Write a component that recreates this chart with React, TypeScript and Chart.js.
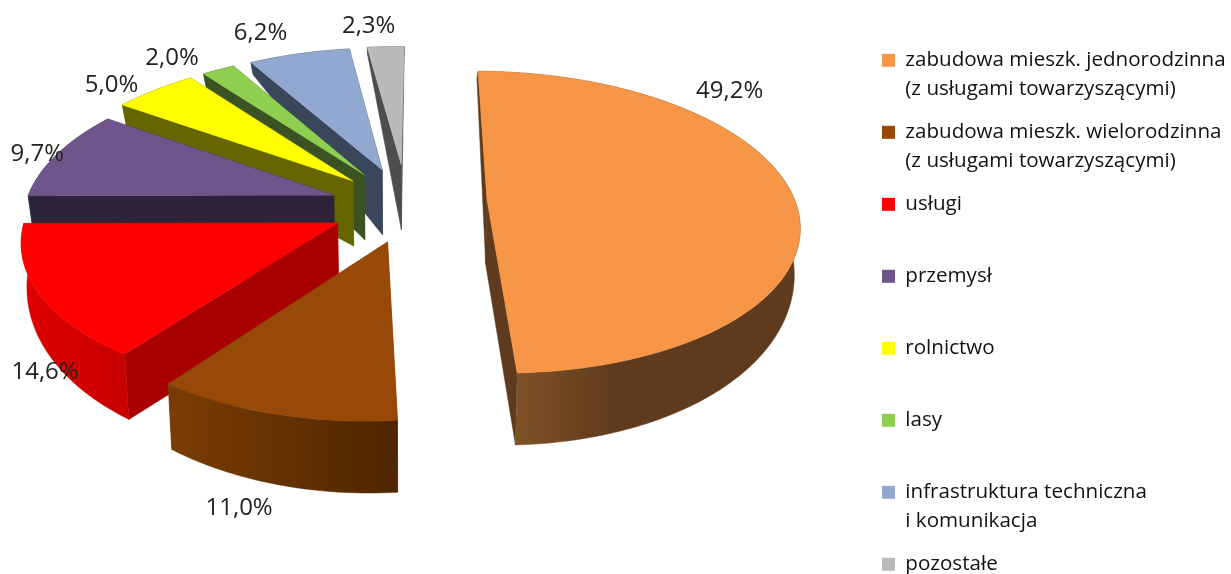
import React, { useEffect, useRef } from "react";
import { Chart, registerables } from "chart.js";

Chart.register(...registerables);

const categories: (string | string[])[] = [
  ["zabudowa mieszk. jednorodzinna", "(z usługami towarzyszącymi)"],
  ["zabudowa mieszk. wielorodzinna", "(z usługami towarzyszącymi)"],
  ["usługi", ""],
  ["przemysł", ""],
  ["rolnictwo", ""],
  ["lasy", ""],
  ["infrastruktura techniczna", "i komunikacja"],
  "pozostałe",
];
const shares = [49.2, 11.0, 14.6, 9.7, 5.0, 2.0, 6.2, 2.3];
const shareLabels = ["49,2%", "11,0%", "14,6%", "9,7%", "5,0%", "2,0%", "6,2%", "2,3%"];

const topColors = ["#F79646", "#984807", "#FF0000", "#6E568C", "#FFFF00", "#8FCF4F", "#91A8D0", "#BABABA"];
const wallLeft = ["#7E5227", "#7A3C05", "#E00000", "#2D2439", "#666600", "#3B5223", "#3A465A", "#4D4D4D"];
const wallRight = ["#5F3A1C", "#4F2600", "#C80000", "#2D2439", "#666600", "#3B5223", "#3A465A", "#4D4D4D"];
const wallStops = [[0.12, 0.42], [0, 1], [0, 1], [0, 1], [0, 1], [0, 1], [0, 1], [0, 1]];
const faceColors = ["#5F3A1C", "#7A3C05", "#A80000", "#2D2439", "#666600", "#3B5223", "#3A465A", "#4D4D4D"];
const explode = [85, 88, 73, 70, 71, 70, 66, 76];
const radiusScale = [1.012, 0.985, 1.015, 1.015, 1.045, 1.03, 1.02, 1];
const rimTaper = [1, 0.97, 0.95, 1, 1, 1, 1, 1];
const sliceNudges = [[-2, 0], [11, 0], [0, 7], [-4, 5], [-1, 4], [-2, 2], [-1, -1], [2, 0]];
const labelNudges = [[-62, -106], [-21, 88], [9, 84], [-28, 5], [-52, -5], [-52, -12], [-41, -24], [-15, -21]];
const paintOrder = [7, 6, 5, 4, 3, 2, 1, 0];

const VIEW = { cx: 404, cy: 200, radius: 304, squash: 0.48, perspective: 0.15, apexDepth: 65, converge: 0.015 };
const FONT = '"Open Sans", sans-serif';

function project(u: number, v: number) {
  const s = 1 / (1 - (VIEW.perspective * v) / VIEW.radius);
  return { x: VIEW.cx + u * s, y: VIEW.cy + VIEW.squash * v * s };
}
function sink(p: { x: number; y: number }, depth: number) {
  return { x: p.x - (p.x - VIEW.cx) * VIEW.converge, y: p.y + depth };
}
function rimDepth(angle: number) {
  // angle is the canvas angle; -PI/2 is the far side of the pie
  return 40 + 32 * Math.sin(angle);
}
function fillPoly(ctx: CanvasRenderingContext2D, pts: { x: number; y: number }[], fill: string | CanvasGradient) {
  ctx.beginPath();
  pts.forEach((p, i) => (i ? ctx.lineTo(p.x, p.y) : ctx.moveTo(p.x, p.y)));
  ctx.closePath();
  ctx.fillStyle = fill;
  ctx.strokeStyle = fill;
  ctx.lineWidth = 0.5;
  ctx.fill();
  ctx.stroke();
}

const pie3d = {
  id: "pie3d",
  beforeDraw(chart: any) {
    const legend = chart.legend;
    legend.left = 868;
    legend.top = 36;
    legend.bottom = 760;
  },
  beforeDatasetsDraw(chart: any) {
    const ctx: CanvasRenderingContext2D = chart.ctx;
    const arcs = chart.getDatasetMeta(0).data;
    ctx.save();
    paintOrder.forEach((i) => {
      const arc = arcs[i];
      const { startAngle, endAngle } = arc.getProps(["startAngle", "endAngle"], true);
      const mid = (startAngle + endAngle) / 2;
      const off = explode[i];
      const ou = Math.cos(mid) * off;
      const ov = Math.sin(mid) * off;
      const [nx, ny] = sliceNudges[i];
      const place = (u: number, v: number) => {
        const p = project(u, v);
        return { x: p.x + nx, y: p.y + ny };
      };
      const apex = place(ou, ov);
      const rim: { x: number; y: number }[] = [];
      const rimLow: { x: number; y: number }[] = [];
      const steps = Math.max(4, Math.ceil((endAngle - startAngle) / 0.015));
      for (let k = 0; k <= steps; k++) {
        const t = k / steps;
        const a = startAngle + (endAngle - startAngle) * t;
        const R = VIEW.radius * radiusScale[i] * (rimTaper[i] + (1 - rimTaper[i]) * t);
        const p = place(ou + Math.cos(a) * R, ov + Math.sin(a) * R);
        rim.push(p);
        rimLow.push(sink(p, rimDepth(a)));
      }
      const apexLow = sink(apex, VIEW.apexDepth);
      fillPoly(ctx, [apex, rim[0], rimLow[0], apexLow], faceColors[i]);
      fillPoly(ctx, [apex, rim[steps], rimLow[steps], apexLow], faceColors[i]);
      const xs = rim.map((p) => p.x);
      const g = ctx.createLinearGradient(Math.min(...xs), 0, Math.max(...xs), 0);
      g.addColorStop(wallStops[i][0], wallLeft[i]);
      g.addColorStop(wallStops[i][1], wallRight[i]);
      fillPoly(ctx, [...rim, ...rimLow.slice().reverse()], g);
      fillPoly(ctx, [apex, ...rim], topColors[i]);
    });
    ctx.fillStyle = "#222";
    ctx.font = `24px ${FONT}`;
    ctx.textAlign = "center";
    ctx.textBaseline = "middle";
    arcs.forEach((arc: any, i: number) => {
      const { startAngle, endAngle } = arc.getProps(["startAngle", "endAngle"], true);
      const mid = (startAngle + endAngle) / 2;
      const r = explode[i] + VIEW.radius;
      const p = project(Math.cos(mid) * r, Math.sin(mid) * r);
      ctx.fillText(shareLabels[i], p.x + labelNudges[i][0], p.y + labelNudges[i][1]);
    });
    ctx.restore();
    return false;
  },
};

export default function App() {
  const ref = useRef<HTMLCanvasElement>(null);
  useEffect(() => {
    const chart = new Chart(ref.current as HTMLCanvasElement, {
      type: "pie",
      data: {
        labels: categories as any,
        datasets: [{ data: shares, backgroundColor: topColors, offset: explode, borderWidth: 0 }],
      },
      options: {
        responsive: false,
        animation: false,
        rotation: 0.5,
        plugins: {
          tooltip: { enabled: false },
          legend: {
            position: "right",
            align: "start",
            labels: {
              color: "#111",
              font: { family: FONT, size: 20.6, lineHeight: 29 / 20.6 },
              padding: 14,
              boxWidth: 13,
              boxHeight: 13,
              usePointStyle: true,
              pointStyle: "rect",
              pointStyleWidth: 13,
            },
          },
        },
      },
      plugins: [pie3d],
    } as any);
    return () => chart.destroy();
  }, []);
  return (
    <div style={{ position: "fixed", left: 0, top: 0, width: 1231, height: 574, background: "#fff" }}>
      <canvas ref={ref} width={1231} height={574} style={{ display: "block" }} />
    </div>
  );
}
